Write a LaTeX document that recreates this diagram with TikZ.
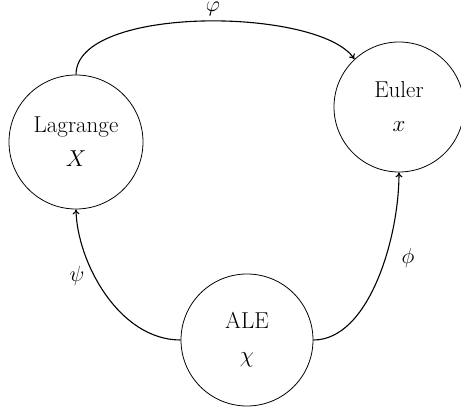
\RequirePackage{fix-cm}
\documentclass[tikz,border=0pt]{standalone}
\usetikzlibrary{arrows.meta}
\begin{document}
\begin{tikzpicture}[x=1pt,y=1pt,
  state/.style={circle,draw,line width=0.8pt,minimum size=#1,inner sep=0pt,align=center,
    font=\fontsize{23}{34}\selectfont},
  conn/.style={line width=1.1pt,-{To[length=5pt,width=7pt]}},
  lbl/.style={font=\fontsize{22}{24}\selectfont}]
\useasboundingbox (0,0) rectangle (461,-414);
\node[state=134pt] (L) at (76,-142) {Lagrange\\$X$};
\node[state=130pt] (E) at (399,-107) {Euler\\$x$};
\node[state=132pt] (A) at (247,-340) {ALE\\$\chi$};
\draw[conn] (L.north) .. controls +(0pt,70pt) and +(-35pt,52pt) .. (E.133);
\draw[conn] (A.west) .. controls +(-62pt,0pt) and +(1pt,-52pt) .. (L.south);
\draw[conn] (A.east) .. controls +(55pt,0pt) and +(0pt,-67pt) .. (E.south);
\node[lbl] (phi1) at (213,-9) {$\varphi$};
\node[lbl] (psi) at (77,-276) {$\psi$};
\node[lbl] (phi2) at (408,-258) {$\phi$};
\end{tikzpicture}
\end{document}
